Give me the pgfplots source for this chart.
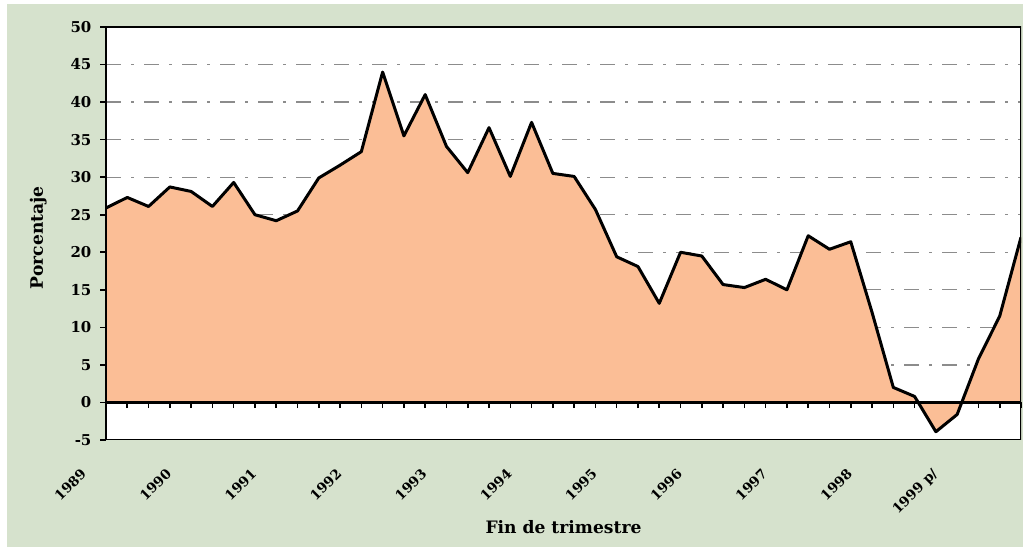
\documentclass[border=0pt]{standalone}
\usepackage{pgfplots}
\pgfplotsset{compat=1.18}
\usepackage{pgfplotstable}
\usepackage{fontspec}
\setmainfont{DejaVu Serif}
\definecolor{panel}{HTML}{D6E2CD}
\definecolor{peach}{HTML}{FBBE96}
\definecolor{gridc}{HTML}{8C8C8C}
\pgfplotstableread{
x y
0 25.9
1 27.3
2 26.1
3 28.7
4 28.1
5 26.1
6 29.3
7 25.0
8 24.2
9 25.5
10 29.9
11 31.6
12 33.4
13 44.0
14 35.5
15 41.0
16 34.1
17 30.6
18 36.6
19 30.1
20 37.3
21 30.5
22 30.1
23 25.7
24 19.4
25 18.1
26 13.2
27 20.0
28 19.5
29 15.7
30 15.3
31 16.4
32 15.0
33 22.2
34 20.4
35 21.4
36 12.0
37 2.0
38 0.8
39 -3.9
40 -1.6
41 5.8
42 11.5
43 22.0
}\datatable
\begin{document}
\begin{tikzpicture}
\fill[white] (0,0) rectangle (511.5bp,275bp);
\fill[panel] (3.5bp,1.5bp) rectangle (511.5bp,273bp);
\begin{axis}[
  at={(53bp,55bp)}, anchor=south west,
  scale only axis,
  width=457.5bp, height=206.5bp,
  xmin=0, xmax=43, ymin=-5, ymax=50,
  axis x line*=middle, axis y line*=left,
  hide obscured x ticks=false, hide obscured y ticks=false,
  axis line style={black, line width=1.1bp},
  axis background/.style={fill=white},
  ytick={-5,0,...,50},
  xtick={0,4,...,40},
  minor xtick={1,2,3,5,6,7,9,10,11,13,14,15,17,18,19,21,22,23,25,26,27,29,30,31,33,34,35,37,38,39,41,42,43},
  xticklabels={1989,1990,1991,1992,1993,1994,1995,1996,1997,1998,1999 p/},
  tick align=outside,
  major tick length=2.8bp,
  minor tick length=2.8bp,
  x tick style={black, line width=0.8bp},
  minor x tick style={black, line width=0.8bp},
  y tick style={black, line width=0.8bp},
  /pgf/number format/assume math mode=true,
  yticklabel style={font=\bfseries\fontsize{7.5}{9}\selectfont, xshift=-1bp},
  xticklabel style={font=\bfseries\fontsize{6.8}{8}\selectfont, inner sep=0pt, xshift=-13bp, yshift=-29.5bp, rotate=45, anchor=north east},
  xlabel={\bfseries Fin de trimestre},
  ylabel={\bfseries Porcentaje},
  label style={font=\bfseries\fontsize{8.6}{10}\selectfont},
  xlabel style={at={(axis description cs:0.5,-0.211)}, anchor=center},
  ylabel style={at={(axis description cs:-0.074,0.49)}, anchor=center},
  clip=true,
]
\pgfplotsinvokeforeach{5,10,...,45}{
  \draw[gridc, line width=0.6bp, dash pattern=on 7.5bp off 5bp on 1.5bp off 5bp] (axis cs:0,#1) -- (axis cs:43,#1);
}
\addplot[draw=none, fill=peach] table[x=x,y=y]{\datatable} \closedcycle;
\addplot[black, line width=1.5bp, line join=round, no marks] table[x=x,y=y]{\datatable};
\draw[black, line width=1.1bp] (rel axis cs:0,0) rectangle (rel axis cs:1,1);
\draw[black, line width=1.2bp] (axis cs:0,0) -- (axis cs:43,0);
\end{axis}
\pgfresetboundingbox
\path[use as bounding box] (0,0) rectangle (511.5bp,275bp);
\end{tikzpicture}
\end{document}
